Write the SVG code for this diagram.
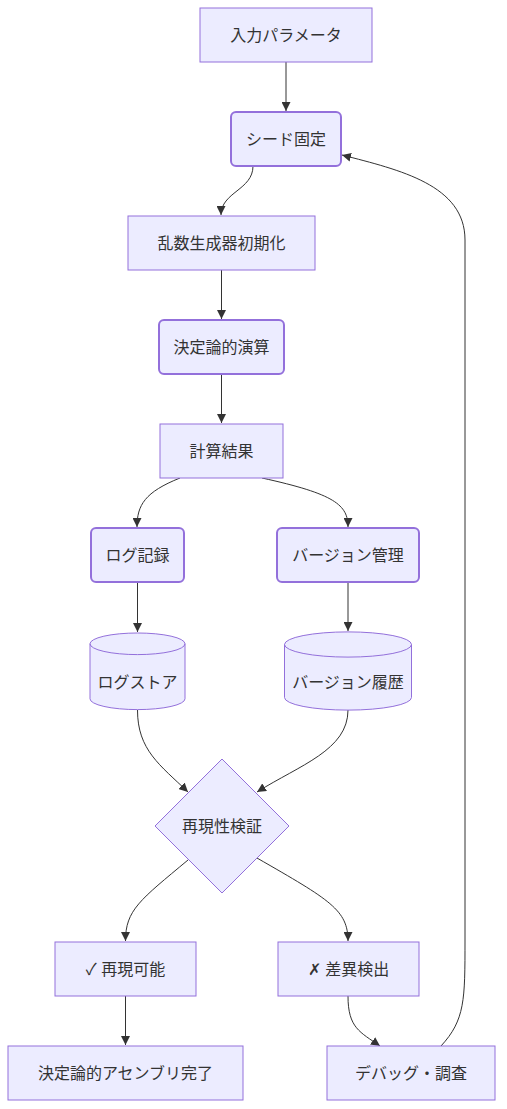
<svg xmlns="http://www.w3.org/2000/svg" width="507" height="1109" viewBox="0 0 507 1109">
<style>
.n{fill:#ECECFF;stroke:#9370DB;stroke-width:1}
.r{fill:#ECECFF;stroke:#9370DB;stroke-width:2}
.t{font-family:"Liberation Sans","Noto Sans CJK JP",sans-serif;font-size:16px;fill:#333;text-anchor:middle;dominant-baseline:central}
.e{fill:none;stroke:#333;stroke-width:1;marker-end:url(#arr)}
</style>
<defs>
<marker id="arr" viewBox="0 0 10 10" refX="10" refY="5" markerWidth="9" markerHeight="9" markerUnits="userSpaceOnUse" orient="auto">
<path d="M0,0 L10,5 L0,10 z" fill="#333"/>
</marker>
</defs>
<rect width="507" height="1109" fill="#fff"/>
<g id="edges">
<path class="e" d="M286,62 L286,111"/>
<path class="e" d="M253,166 C253,190 221,192 221,215"/>
<path class="e" d="M221.5,270 L221.5,319"/>
<path class="e" d="M221.5,374 L221.5,423"/>
<path class="e" d="M180,478 C145,492 137,505 137,527"/>
<path class="e" d="M262,478 C335,494 348,505 348,527"/>
<path class="e" d="M137.5,582 L137.5,632"/>
<path class="e" d="M348,582 L348,631"/>
<path class="e" d="M137.5,710 C137.5,750 160,765 188,792"/>
<path class="e" d="M348,710 C348,750 300,765 257,792"/>
<path class="e" d="M188,860 C140,900 125.5,910 125.5,941"/>
<path class="e" d="M257,858 C330,900 348,910 348,941"/>
<path class="e" d="M125.5,996 L125.5,1045"/>
<path class="e" d="M348,996 C348,1028 360,1032 380,1046"/>
<path class="e" d="M441,1046 C465,1020 465,1000 465,940 L465,240 C465,185 400,170 342,155"/>
</g>
<g id="n1"><rect class="n" x="200" y="8" width="172" height="54"/><text class="t" x="286" y="35">入力パラメータ</text></g>
<g id="n2"><rect class="r" x="231" y="112" width="110" height="54" rx="5"/><text class="t" x="286" y="139">シード固定</text></g>
<g id="n3"><rect class="n" x="128" y="216" width="187" height="54"/><text class="t" x="221.5" y="243">乱数生成器初期化</text></g>
<g id="n4"><rect class="r" x="159" y="320" width="125" height="54" rx="5"/><text class="t" x="221.5" y="347">決定論的演算</text></g>
<g id="n5"><rect class="n" x="160" y="424" width="123" height="54"/><text class="t" x="221.5" y="451">計算結果</text></g>
<g id="n6"><rect class="r" x="91" y="528" width="93" height="54" rx="5"/><text class="t" x="137.5" y="555">ログ記録</text></g>
<g id="n7"><rect class="r" x="277" y="528" width="142" height="54" rx="5"/><text class="t" x="348" y="555">バージョン管理</text></g>
<g id="n8"><path class="n" d="M90,643.8 a47.5,10.8 0 0 0 95,0 a47.5,10.8 0 0 0 -95,0 l0,55 a47.5,10.8 0 0 0 95,0 l0,-55"/><text class="t" x="137.5" y="682">ログストア</text></g>
<g id="n9"><path class="n" d="M284.5,644.5 a63.5,12.6 0 0 0 127,0 a63.5,12.6 0 0 0 -127,0 l0,53 a63.5,12.6 0 0 0 127,0 l0,-53"/><text class="t" x="348" y="682">バージョン履歴</text></g>
<g id="n10"><polygon class="n" points="222,759 289,826 222,893 155,826"/><text class="t" x="222" y="826">再現性検証</text></g>
<g id="n11"><rect class="n" x="55" y="942" width="141" height="54"/><text class="t" x="125.5" y="969">✓ 再現可能</text></g>
<g id="n12"><rect class="n" x="278" y="942" width="141" height="54"/><text class="t" x="348.5" y="969">✗ 差異検出</text></g>
<g id="n13"><rect class="n" x="8" y="1046" width="235" height="54"/><text class="t" x="125.5" y="1073">決定論的アセンブリ完了</text></g>
<g id="n14"><rect class="n" x="327" y="1046" width="168" height="54"/><text class="t" x="411" y="1073">デバッグ・調査</text></g>
</svg>
